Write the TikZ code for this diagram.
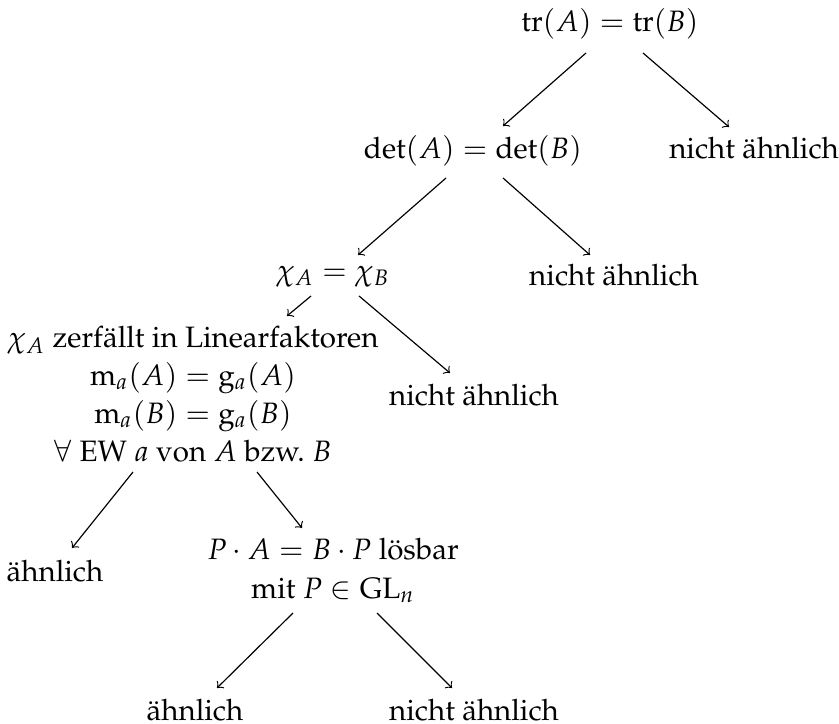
\documentclass[tikz,border=0pt]{standalone}
\usepackage[T1]{fontenc}
\usepackage{mathpazo}
\usetikzlibrary{calc}
\begin{document}
\begin{tikzpicture}[x=0.339pt,y=-0.339pt,
  lbl/.style={inner sep=0pt,anchor=base,align=center},
  arr/.style={->,line width=0.4pt}]
\useasboundingbox (0,0) rectangle (839,724);
\node[lbl] (tr) at (610,32) {$\mathrm{tr}(A)=\mathrm{tr}(B)$};
\node[lbl] (det) at (473,159) {$\det(A)=\det(B)$};
\node[lbl] (n1) at (754,159) {nicht \"ahnlich};
\node[lbl] (chi) at (333,280) {$\chi_A=\chi_B$};
\node[lbl] (n2) at (614,286) {nicht \"ahnlich};
\node[lbl] (big) at (193,461) {$\chi_A$ zerf\"allt in Linearfaktoren\\[0.8pt]
  $\mathrm{m}_a(A)=\mathrm{g}_a(A)$\\[0.8pt]
  $\mathrm{m}_a(B)=\mathrm{g}_a(B)$\\[0.8pt]
  $\forall$ EW $a$ von $A$ bzw.\ $B$};
\node[lbl] (n3) at (474,405) {nicht \"ahnlich};
\node[lbl] (ae1) at (55,581) {\"ahnlich};
\node[lbl] (P) at (333,598) {$P\cdot A=B\cdot P$ l\"osbar\\[1.2pt] mit $P\in\mathrm{GL}_n$};
\node[lbl] (ae2) at (195,720) {\"ahnlich};
\node[lbl] (n4) at (474,720) {nicht \"ahnlich};
\draw[arr] ($(tr.base)+(-24,21)$) -- ($(det.base)+(30,-33)$);
\draw[arr] ($(tr.base)+(33,21)$) -- ($(n1.base)+(-25,-32)$);
\draw[arr] ($(det.base)+(-27,19)$) -- ($(chi.base)+(25,-25)$);
\draw[arr] ($(det.base)+(30,19)$) -- ($(n2.base)+(-24,-31)$);
\draw[arr] ($(chi.base)+(-22,16)$) -- ($(big.base)+(94,-145)$);
\draw[arr] ($(chi.base)+(26,16)$) -- ($(n3.base)+(-24,-32)$);
\draw[arr] ($(big.base)+(-60,11)$) -- ($(ae1.base)+(17,-33)$);
\draw[arr] ($(big.base)+(64,11)$) -- ($(P.base)+(-31,-70)$);
\draw[arr] ($(P.base)+(-40,15)$) -- ($(ae2.base)+(22,-32)$);
\draw[arr] ($(P.base)+(44,15)$) -- ($(n4.base)+(-22,-32)$);
\end{tikzpicture}
\end{document}
